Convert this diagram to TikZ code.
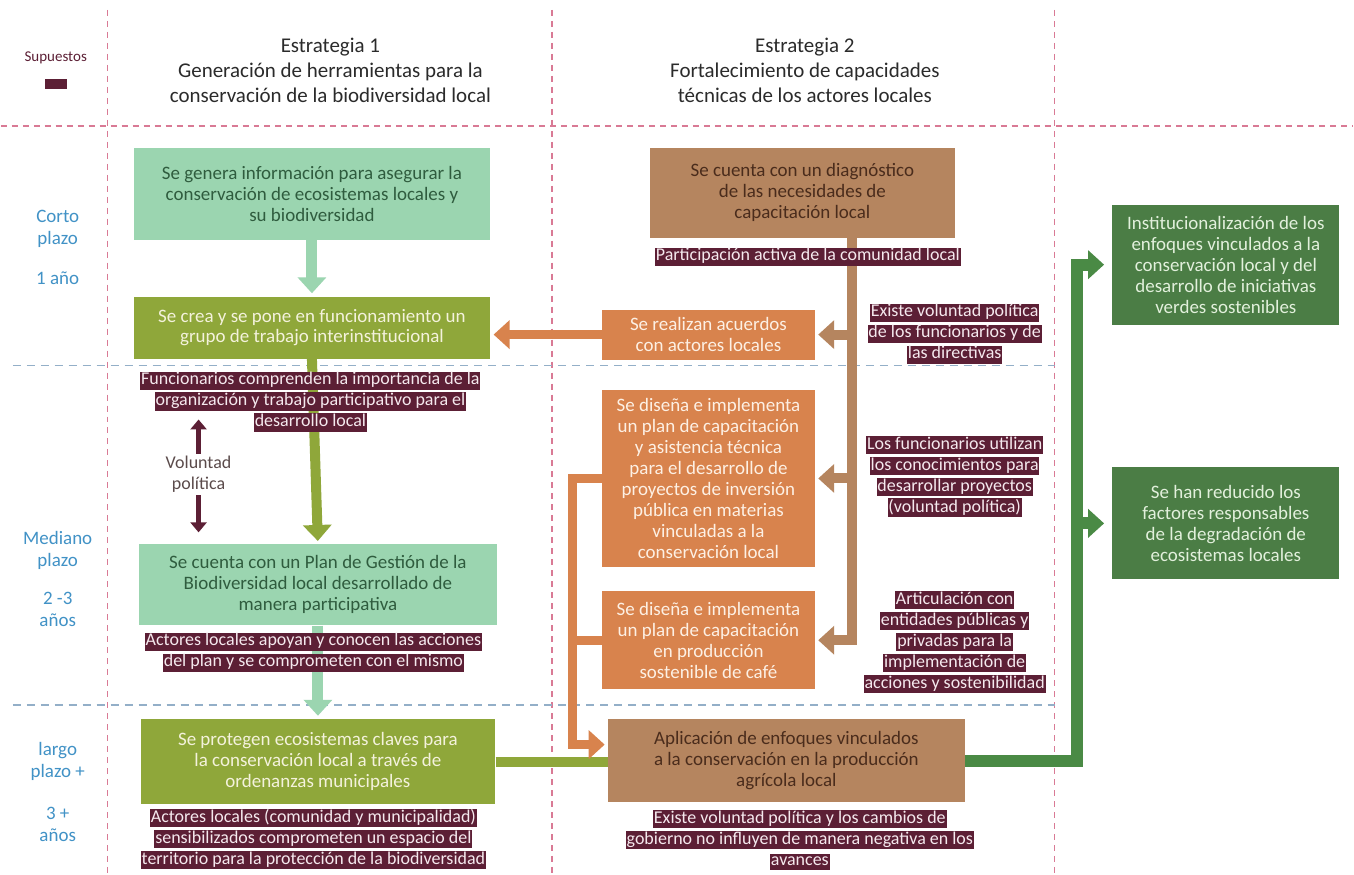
\documentclass[tikz,border=0pt]{standalone}
\usepackage{fontspec}
\setmainfont{Carlito}
\usetikzlibrary{arrows.meta}
\definecolor{mint}{HTML}{9BD5B0}
\definecolor{olive}{HTML}{8FA73A}
\definecolor{tanbox}{HTML}{B5855F}
\definecolor{orng}{HTML}{D8834D}
\definecolor{dkgrn}{HTML}{4B7D45}
\definecolor{grnln}{HTML}{4A8A45}
\definecolor{maroon}{HTML}{5C1F35}
\definecolor{pinkd}{HTML}{D97A95}
\definecolor{blued}{HTML}{93AFC8}
\definecolor{timeblue}{HTML}{4192C6}
\definecolor{mintTxt}{HTML}{2F5C3E}
\definecolor{oliveTxt}{HTML}{F4F2DC}
\definecolor{tanTxt}{HTML}{4A2C1C}
\definecolor{orgTxt}{HTML}{FDF0E4}
\definecolor{grnTxt}{HTML}{E2F0DC}
\definecolor{supTxt}{HTML}{F5E9EE}
\definecolor{headTxt}{HTML}{2B2B2B}
\definecolor{volTxt}{HTML}{5B4B4B}
\tikzset{
  blk/.style      = {align=center, inner sep=2pt, font=\fontsize{9.5}{10.5}\selectfont},
  mintblk/.style  = {blk, fill=mint, text=mintTxt},
  oliveblk/.style = {blk, fill=olive, text=oliveTxt},
  tanblk/.style   = {blk, fill=tanbox, text=tanTxt},
  orgblk/.style   = {blk, fill=orng, text=orgTxt},
  grnblk/.style   = {blk, fill=dkgrn, text=grnTxt},
  supuesto/.style = {align=center, inner sep=0pt, text=supTxt, font=\fontsize{9}{10.5}\selectfont},
  head/.style     = {align=center, text=headTxt, font=\fontsize{10.5}{12.5}\selectfont},
  timelbl/.style  = {align=center, text=timeblue, font=\fontsize{9.5}{11}\selectfont},
  tip/.style      = {-{Triangle[length=8pt,width=14pt]}, shorten >=1.5pt},
  mintar/.style   = {tip, draw=mint, line width=5.5pt},
  olar/.style     = {tip, draw=olive, line width=5pt},
  olln/.style     = {draw=olive, line width=5pt},
  tanar/.style    = {tip, draw=tanbox, line width=5pt},
  orar/.style     = {tip, draw=orng, line width=4.5pt},
  orln/.style     = {draw=orng, line width=4.5pt},
  grar/.style     = {tip, draw=grnln, line width=6pt, shorten >=4pt},
  vpar/.style     = {-{Triangle[length=5pt,width=8pt]}, draw=maroon, line width=2.5pt},
  pinkdash/.style = {draw=pinkd, line width=0.8pt, dash pattern=on 3pt off 2.5pt},
  bluedash/.style = {draw=blued, line width=0.8pt, dash pattern=on 4pt off 3pt}
}
\newcommand{\hl}[1]{{\setlength{\fboxsep}{0.4pt}\colorbox{maroon}{\rule[-2pt]{0pt}{7pt}#1}}}

\begin{document}
\begin{tikzpicture}[x=0.5pt, y=-0.5pt]
\fill[white] (0,0) rectangle (1354,875);
% grid
\draw[pinkdash] (0,126) -- (1354,126);
\foreach \xx in {107,552,1055} \draw[pinkdash] (\xx,10) -- (\xx,875);
\draw[bluedash] (12,366) -- (1055,366);
\draw[bluedash] (12,706) -- (1055,706);

% headers
\node[text=maroon, font=\fontsize{7.5}{9}\selectfont] (suptit) at (55,58) {Supuestos};
\node[fill=maroon, minimum width=11pt, minimum height=5pt, inner sep=0pt] (supkey) at (55,84) {};
\node[head] (est1) at (330,70) {Estrategia 1\\Generación de herramientas para la\\conservación de la biodiversidad local};
\node[head] (est2) at (805,70) {Estrategia 2\\Fortalecimiento de capacidades\\técnicas de los actores locales};

\node[timelbl] (corto) at (57,229) {Corto\\plazo};
\node[timelbl] (unoanio) at (57,279) {1 año};
\node[timelbl] (mediano) at (57,551) {Mediano\\plazo};
\node[timelbl] (dostres) at (57,610) {2 -3\\años};
\node[timelbl] (largo) at (57,762) {largo\\plazo +};
\node[timelbl] (tresmas) at (57,825) {3 +\\años};

% estrategia 1
\node[mintblk, minimum width=178.5pt, minimum height=46pt] (gen) at (311.5,194)
      {Se genera información para asegurar la\\conservación de ecosistemas locales y\\su biodiversidad};
\node[oliveblk, minimum width=178.5pt, minimum height=31pt] (grupo) at (311.5,328)
      {Se crea y se pone en funcionamiento un\\grupo de trabajo interinstitucional};
\node[mintblk, minimum width=179.5pt, minimum height=40.5pt] (plan) at (317.5,585.5)
      {Se cuenta con un Plan de Gestión de la\\Biodiversidad local desarrollado de\\manera participativa};
\node[oliveblk, minimum width=177.5pt, minimum height=42.5pt] (protege) at (317.5,762.5)
      {Se protegen ecosistemas claves para\\la conservación local a través de\\ordenanzas municipales};

% estrategia 2
\node[tanblk, minimum width=152.5pt, minimum height=45pt] (diag) at (802.5,193)
      {Se cuenta con un diagnóstico\\de las necesidades de\\capacitación local};
\node[orgblk, minimum width=106.5pt, minimum height=25pt] (acuerdos) at (708.5,335)
      {Se realizan acuerdos\\con actores locales};
\node[orgblk, minimum width=106.5pt, minimum height=89pt] (asist) at (708.5,479)
      {Se diseña e implementa\\un plan de capacitación\\y asistencia técnica\\para el desarrollo de\\proyectos de inversión\\pública en materias\\vinculadas a la\\conservación local};
\node[orgblk, minimum width=106.5pt, minimum height=49pt] (cafe) at (708.5,641)
      {Se diseña e implementa\\un plan de capacitación\\en producción\\sostenible de café};
\node[tanblk, minimum width=178.5pt, minimum height=41.5pt] (aplic) at (786.5,761.5)
      {Aplicación de enfoques vinculados\\a la conservación en la producción\\agrícola local};

% impactos
\node[grnblk, minimum width=113.5pt, minimum height=60pt] (inst) at (1226.5,265)
      {Institucionalización de los\\enfoques vinculados a la\\conservación local y del\\desarrollo de iniciativas\\verdes sostenibles};
\node[grnblk, minimum width=113.5pt, minimum height=56pt] (reduc) at (1226.5,524)
      {Se han reducido los\\factores responsables\\de la degradación de\\ecosistemas locales};

% connectors
\draw[mintar] (gen.south) -- (grupo.north);
\draw[orar] (acuerdos.west) -- (acuerdos.west -| grupo.east);
\draw[olar] (grupo.south) -- (plan.north);
\draw[mintar] (plan.south) -- (protege.north);
\draw[olln] (protege.east) -- (protege.east -| aplic.west);

\coordinate (trunk) at (852,0);
\draw[tanar] (diag.south -| trunk) |- (cafe.east);
\draw[tanar] (trunk |- acuerdos.east) -- (acuerdos.east);
\draw[tanar] (trunk |- asist.east) -- (asist.east);

\coordinate (oleg) at (572,0);
\coordinate (aplin) at ([yshift=8pt]aplic.west);
\draw[orar] (asist.west) -| (oleg |- aplin) -- (aplin);
\draw[orln] (cafe.west) -- (cafe.west -| oleg);

\coordinate (gleg) at (1077,0);
\draw[grar] (aplic.east) -| (gleg |- inst.west) -- (inst.west);
\draw[grar] (gleg |- reduc.west) -- (reduc.west);

\node[align=center, text=volTxt, inner sep=1pt, font=\fontsize{9}{10.5}\selectfont] (volpol) at (198,475) {Voluntad\\política};
\coordinate (vptop) at (198,420);
\coordinate (vpbot) at (198,533);
\draw[vpar] (volpol.north) -- (vptop);
\draw[vpar] (volpol.south) -- (vpbot);

% supuestos
\node[supuesto] (sfunc) at (310,402)
      {\hl{Funcionarios comprenden la importancia de la}\\\hl{organización y trabajo participativo para el}\\\hl{desarrollo local}};
\node[supuesto] (sactor) at (313,653)
      {\hl{Actores locales apoyan y conocen las acciones}\\\hl{del plan y se comprometen con el mismo}};
\node[supuesto] (sterr) at (313,840)
      {\hl{Actores locales (comunidad y municipalidad)}\\\hl{sensibilizados comprometen un espacio del}\\\hl{territorio para la protección de la biodiversidad}};
\node[supuesto] (spart) at (808,257) {\hl{Participación activa de la comunidad local}};
\node[supuesto] (svol) at (955,334)
      {\hl{Existe voluntad política}\\\hl{de los funcionarios y de}\\\hl{las directivas}};
\node[supuesto] (sutil) at (955,477)
      {\hl{Los funcionarios utilizan}\\\hl{los conocimientos para}\\\hl{desarrollar proyectos}\\\hl{(voluntad política)}};
\node[supuesto] (sartic) at (955,643)
      {\hl{Articulación con}\\\hl{entidades públicas y}\\\hl{privadas para la}\\\hl{implementación de}\\\hl{acciones y sostenibilidad}};
\node[supuesto] (sgob) at (800,841)
      {\hl{Existe voluntad política y los cambios de}\\\hl{gobierno no influyen de manera negativa en los}\\\hl{avances}};
\end{tikzpicture}
\end{document}
